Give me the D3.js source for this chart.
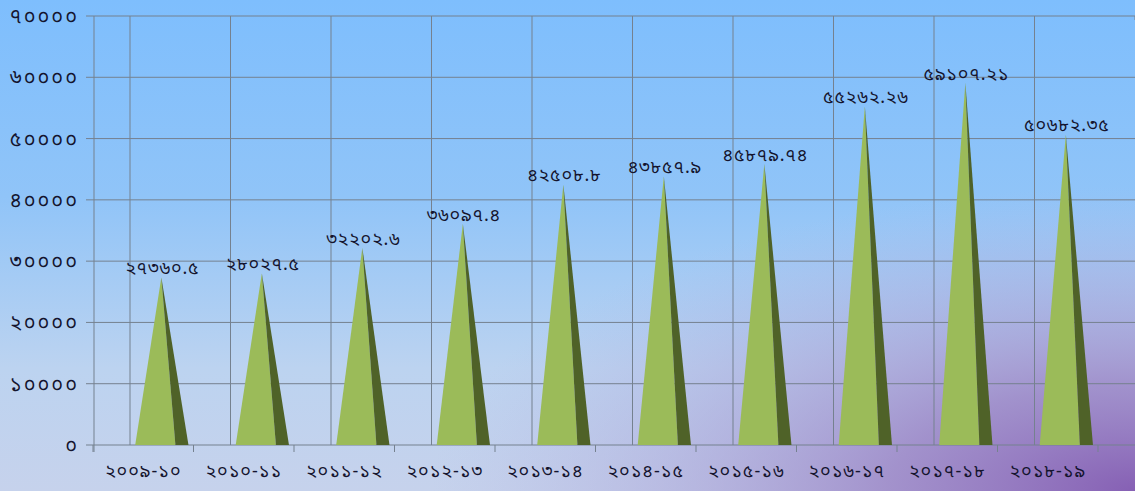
<!DOCTYPE html>
<html>
<head>
<meta charset="utf-8">
<script src="https://cdn.jsdelivr.net/npm/d3@7"></script>
<style>
html,body{margin:0;padding:0;overflow:hidden;}
svg{display:block;}
text{font-family:"Noto Sans Bengali","Noto Serif Bengali","Lohit Bengali","Noto Sans",sans-serif;fill:#14142e;}
</style>
</head>
<body>
<svg id="chart" width="1135" height="491"></svg>
<script>
const categories = ["২০০৯-১০","২০১০-১১","২০১১-১২","২০১২-১৩","২০১৩-১৪","২০১৪-১৫","২০১৫-১৬","২০১৬-১৭","২০১৭-১৮","২০১৮-১৯"];
const values = [27360.5, 28027.5, 32202.6, 36097.4, 42508.8, 43857.9, 45879.74, 55262.26, 59107.21, 50682.35];
const valueLabels = ["২৭৩৬০.৫","২৮০২৭.৫","৩২২০২.৬","৩৬০৯৭.৪","৪২৫০৮.৮","৪৩৮৫৭.৯","৪৫৮৭৯.৭৪","৫৫২৬২.২৬","৫৯১০৭.২১","৫০৬৮২.৩৫"];
const yTicks = [0,10000,20000,30000,40000,50000,60000,70000];
const yTickLabels = ["০","১০০০০","২০০০০","৩০০০০","৪০০০০","৫০০০০","৬০০০০","৭০০০০"];

const W = 1135, H = 491;
const svg = d3.select("#chart");
const defs = svg.append("defs");
const lg = defs.append("linearGradient").attr("id","bg").attr("x1",0).attr("y1",0).attr("x2",0).attr("y2",1);
lg.append("stop").attr("offset","0").attr("stop-color","#7ebefd");
lg.append("stop").attr("offset","0.4").attr("stop-color","#90c4f8");
lg.append("stop").attr("offset","0.75").attr("stop-color","#bcd3f0");
lg.append("stop").attr("offset","1").attr("stop-color","#c6d2ec");
const rg = defs.append("radialGradient").attr("id","purple").attr("cx",1).attr("cy",1).attr("r",0.62);
rg.append("stop").attr("offset","0").attr("stop-color","#8660b4").attr("stop-opacity",1);
rg.append("stop").attr("offset","0.35").attr("stop-color","#9a82c4").attr("stop-opacity",0.8);
rg.append("stop").attr("offset","1").attr("stop-color","#b4b4e4").attr("stop-opacity",0);
svg.append("rect").attr("width",W).attr("height",H).attr("fill","url(#bg)");
svg.append("rect").attr("width",W).attr("height",H).attr("fill","url(#purple)");

const x0 = 93, x1 = 1098;
const x = d3.scaleBand().domain(categories).range([x0, x1]).padding(0);
const y = d3.scaleLinear().domain([0,70000]).range([445,16]);
const depth = 37;
const bw = x.bandwidth();

const grid = svg.append("g").attr("stroke","#75818f").attr("stroke-width",1).attr("fill","none");
yTicks.forEach(t => {
  grid.append("line").attr("x1",86).attr("x2",W).attr("y1",y(t)).attr("y2",y(t));
});
grid.append("line").attr("x1",94).attr("x2",94).attr("y1",y(70000)).attr("y2",452);
categories.forEach((c,i) => {
  const gx = x(c) + depth;
  grid.append("line").attr("x1",gx).attr("x2",gx).attr("y1",y(70000)).attr("y2",y(0));
});
grid.append("line").attr("x1",x1+depth).attr("x2",x1+depth).attr("y1",y(70000)).attr("y2",20);
categories.concat([null]).forEach((c,i) => {
  const tx = c ? x(c) : x1;
  grid.append("line").attr("x1",tx).attr("x2",tx).attr("y1",y(0)).attr("y2",452);
});

const pyr = svg.append("g");
categories.forEach((c,i) => {
  const s = x(c);
  const pk = y(values[i]);
  const base = y(0);
  const L = s + bw*0.42, P = s + bw*0.68, M = s + bw*0.82, R = s + bw*0.95;
  pyr.append("path").attr("d",`M${L},${base}L${P},${pk}L${M},${base}Z`).attr("fill","#9bbb59");
  pyr.append("path").attr("d",`M${P},${pk}L${R},${base}L${M},${base}Z`).attr("fill","#4f6228");
});

svg.append("g").selectAll("text").data(categories).join("text")
  .attr("x",(c,i)=> x(c) + bw*0.69)
  .attr("y",(c,i)=> y(values[i]) - 3)
  .attr("text-anchor","middle")
  .attr("font-size",18).attr("letter-spacing",0.8)
  .text((c,i)=>valueLabels[i]);

svg.append("g").selectAll("text").data(yTicks).join("text")
  .attr("x",79).attr("y",t=>y(t)+7)
  .attr("text-anchor","end").attr("font-size",20).attr("letter-spacing",2)
  .text((t,i)=>yTickLabels[i]);

svg.append("g").selectAll("text").data(categories).join("text")
  .attr("x",c=>x(c)+bw/2).attr("y",477)
  .attr("text-anchor","middle").attr("font-size",18).attr("letter-spacing",1)
  .text(c=>c);
</script>
</body>
</html>
